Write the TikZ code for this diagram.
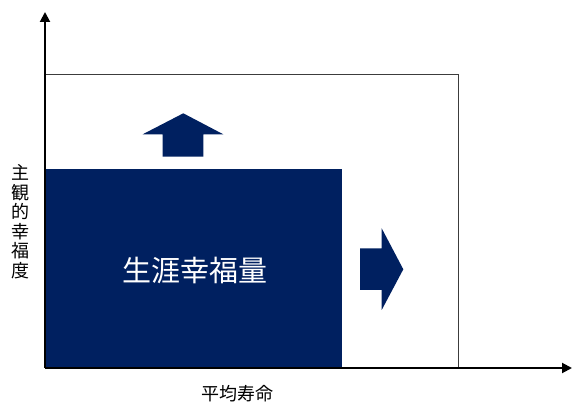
\documentclass[tikz,border=0pt]{standalone}
\usepackage{fontspec}
\newfontfamily\cjk{Noto Sans CJK JP}
\usetikzlibrary{arrows.meta}
\definecolor{navy}{RGB}{0,32,96}
\definecolor{framegray}{RGB}{60,60,60}
\tikzset{
  axis/.style={line width=2pt, black, -{Triangle[length=10pt,width=10pt]}},
  framebox/.style={draw=framegray, line width=1pt, inner sep=0pt, outer sep=0pt},
  fillbox/.style={fill=navy, inner sep=0pt, outer sep=0pt, text=white, font=\cjk\fontsize{29}{33}\selectfont},
  bigarrow/.style={fill=navy, draw=none},
  axislabel/.style={font=\cjk\fontsize{18}{19.5}\selectfont, text=black, align=center, inner sep=0pt}
}
\begin{document}
\begin{tikzpicture}[x=1pt,y=-1pt]
\useasboundingbox (0,0) rectangle (573,403);
\coordinate (origin) at (45,368);
\coordinate (ytop) at (45,12);
\coordinate (xend) at (572,368);
% outer frame
\node[framebox, minimum width=413.3pt, minimum height=293.5pt] (outer) at (251.65,221.25) {};
% filled area
\node[fillbox, minimum width=297.3pt, minimum height=199pt] (area) at (193.65,268.5) {};
\node[fillbox, fill=none] (areatext) at (195,270) {生涯幸福量};
% up arrow
\fill[bigarrow] (162.7,156.7) -- (162.7,134.3) -- (142.7,134.3) -- (183.3,113.3) -- (223.3,134.3) -- (203.3,134.3) -- (203.3,156.7) -- cycle;
% right arrow
\fill[bigarrow] (360,248.3) -- (381.7,248.3) -- (381.7,228.3) -- (403.3,269.3) -- (381.7,310) -- (381.7,290) -- (360,290) -- cycle;
% axes
\draw[axis] (origin) -- (ytop);
\draw[axis] (origin) -- (xend);
% labels
\node[axislabel] (ylabel) at (20,221.5) {主\\観\\的\\幸\\福\\度};
\node[axislabel] (xlabel) at (237,394) {平均寿命};
\end{tikzpicture}
\end{document}
